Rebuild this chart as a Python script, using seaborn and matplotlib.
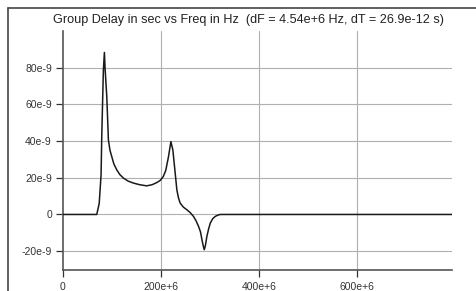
import numpy as np
import pandas as pd
import matplotlib
matplotlib.use("Agg")
import matplotlib.pyplot as plt
import seaborn as sns

# values (frequency in MHz, delay in ns)
freq_mhz = [0, 69, 74, 77.8, 79.2, 82.5, 84.6, 86, 89.5, 92.8, 96, 99.7, 104,
            109.9, 116, 123.5, 133, 144, 157, 171, 182, 191.8, 199, 205, 210,
            215.6, 220.5, 224.5, 229.3, 232.7, 236, 239.5, 246, 253, 260, 266.8,
            272, 277, 281, 284, 286.5, 288.7, 291, 294, 297.5, 301, 306, 311,
            316, 321.4, 795]
delay_ns = [0, 0, 6, 21.6, 42.4, 78.6, 88.3, 79.6, 64.1, 40.6, 35, 31.5, 27.5,
            24.3, 21.8, 19.8, 18.2, 17.1, 16.2, 15.6, 16.2, 17.4, 18.6, 20.7, 24,
            31.5, 39.7, 35.2, 22.5, 13.4, 9, 6.2, 4, 2.6, 1, -1.1,
            -3.5, -6.5, -9.5, -13.8, -17, -19.2, -17, -12, -8, -4.7, -2.3, -1.1,
            -0.4, 0, 0]

ytick_vals = [-20e-9, 0, 20e-9, 40e-9, 60e-9, 80e-9]
ytick_labels = ["-20e-9", "0", "20e-9", "40e-9", "60e-9", "80e-9"]
xtick_vals = [0, 200e6, 400e6, 600e6]
xtick_labels = ["0", "200e+6", "400e+6", "600e+6"]

title = "Group Delay in sec vs Freq in Hz  (dF = 4.54e+6 Hz, dT = 26.9e-12 s)"

df = pd.DataFrame({"freq": np.array(freq_mhz) * 1e6,
                   "delay": np.array(delay_ns) * 1e-9})

sns.set_style("white")
plt.rcParams["font.family"] = ["Liberation Sans", "DejaVu Sans"]

fig = plt.figure(figsize=(4.77, 2.91), dpi=100)
ax = fig.add_axes([63 / 477, 1 - 269.5 / 291, (452 - 63) / 477, (269.5 - 31) / 291])

# grid lines
for y in ytick_vals:
    ax.axhline(y, color="#b0b0b0", lw=0.8, zorder=1)
for x in xtick_vals[1:]:
    ax.axvline(x, color="#b0b0b0", lw=0.8, zorder=1)

sns.lineplot(data=df, x="freq", y="delay", ax=ax, color="#1a1a1a", lw=1.1, zorder=3)

ax.set_xlim(0, 795e6)
ax.set_ylim(-30e-9, 100e-9)
ax.set_xticks(xtick_vals)
ax.set_xticklabels(xtick_labels)
ax.set_yticks(ytick_vals)
ax.set_yticklabels(ytick_labels)
ax.set_xlabel("")
ax.set_ylabel("")
ax.tick_params(axis="both", labelsize=7.5, colors="#333333", length=5,
               width=0.9, direction="out", left=True, bottom=True)
ax.tick_params(axis="x", pad=4)
ax.tick_params(axis="y", pad=3)

for side in ["top", "right"]:
    ax.spines[side].set_visible(False)
for side in ["left", "bottom"]:
    ax.spines[side].set_color("#555555")
    ax.spines[side].set_linewidth(1.2)

fig.text(249 / 477, 1 - 20 / 291, title, ha="center", va="center",
         fontsize=9.1, color="#222222")

# outer frame of the window (top and left edges)
fig.add_artist(plt.Line2D([8 / 477, 1], [1 - 7.5 / 291, 1 - 7.5 / 291],
                          transform=fig.transFigure, color="#444444", lw=1.2))
fig.add_artist(plt.Line2D([8 / 477, 8 / 477], [0, 1 - 7.5 / 291],
                          transform=fig.transFigure, color="#444444", lw=1.2))

fig.savefig("out.png", dpi=100)
